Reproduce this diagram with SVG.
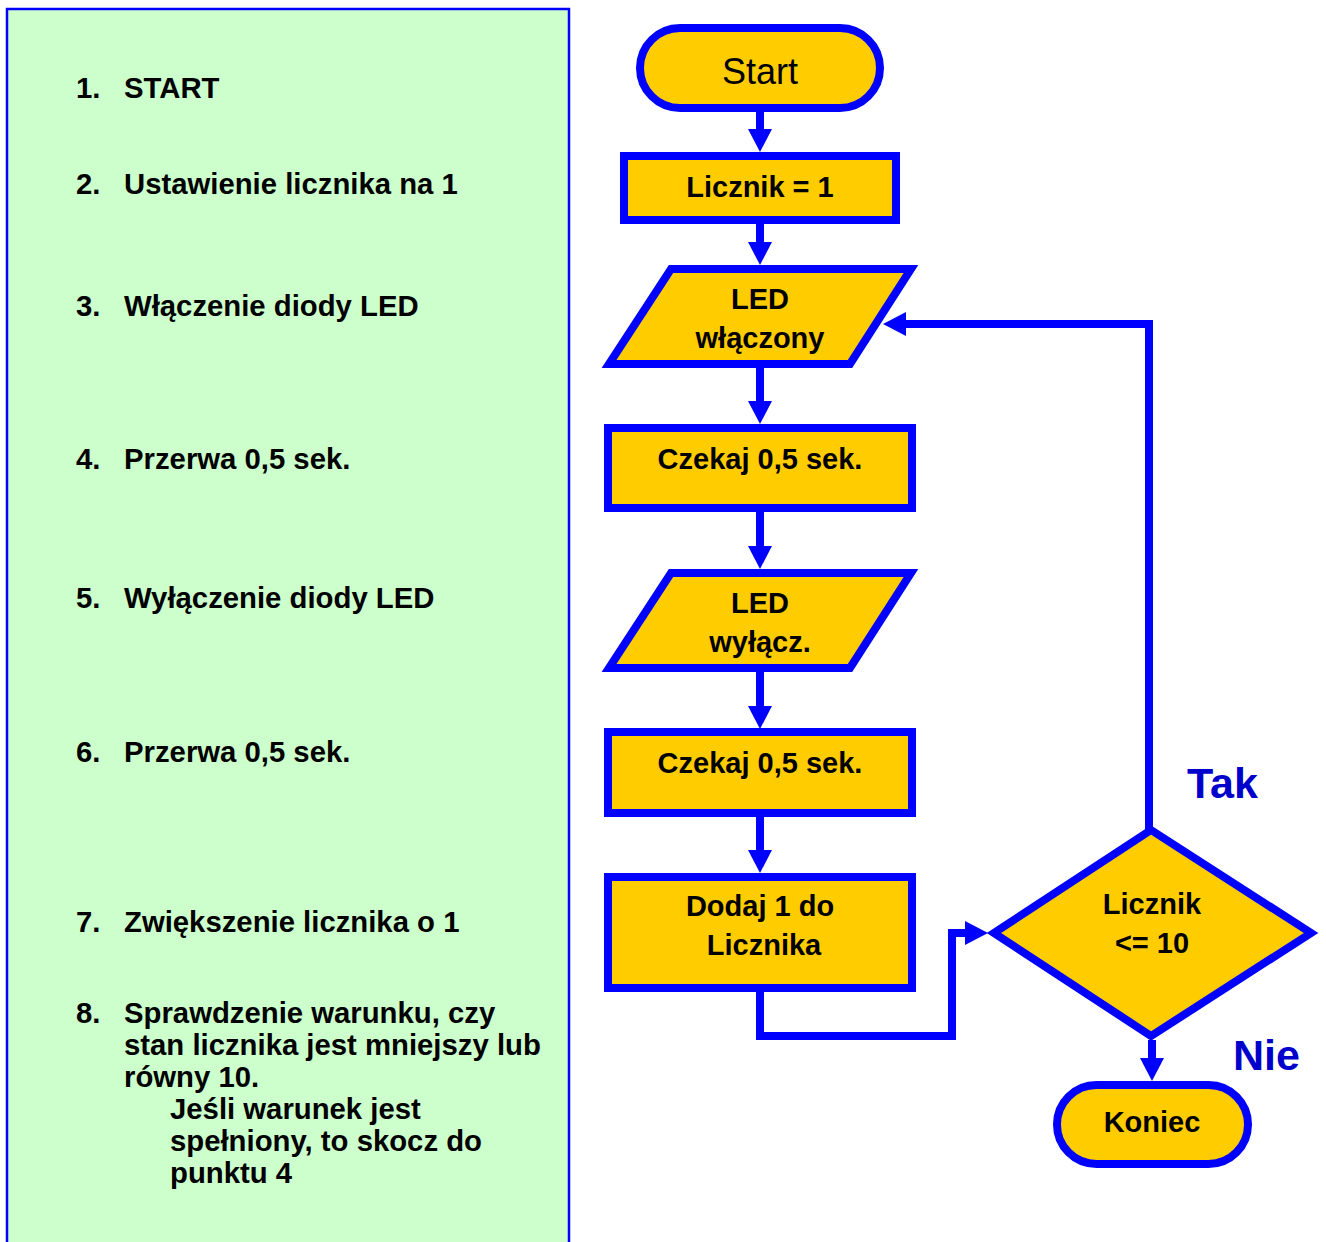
<svg xmlns="http://www.w3.org/2000/svg" width="1326" height="1242" viewBox="0 0 1326 1242">
<style>
  .panel { fill: #ccffcc; stroke: #0000ff; stroke-width: 2.5; }
  .step { font-family: "Liberation Sans", Arial, sans-serif; font-size: 29.3px; font-weight: bold; fill: #000; }
  .shape { fill: #ffcc00; stroke: #0000ff; stroke-width: 8; stroke-linejoin: miter; stroke-miterlimit: 10; }
  .lbl { font-family: "Liberation Sans", Arial, sans-serif; font-size: 29px; font-weight: bold; fill: #000; text-anchor: middle; }
  .term { font-family: "Liberation Sans", Arial, sans-serif; font-size: 36px; fill: #000; text-anchor: middle; }
  .conn { fill: none; stroke: #0000ff; stroke-width: 8; stroke-linejoin: miter; marker-end: url(#ah); }
  .branch { font-family: "Liberation Sans", Arial, sans-serif; font-size: 43px; font-weight: bold; fill: #0000cc; }
</style>
<defs>
  <marker id="ah" markerUnits="userSpaceOnUse" markerWidth="24" markerHeight="24" viewBox="0 -12 24 24" refX="0" refY="0" orient="auto">
    <path d="M0,-12 L23,0 L0,12 z" fill="#0000ff"/>
  </marker>
</defs>
<rect width="1326" height="1242" fill="#ffffff"/>

<g id="panel">
  <rect class="panel" x="7" y="9" width="562" height="1245"/>
  <text class="step" x="76" y="98">1.</text><text class="step" x="124" y="98">START</text>
  <text class="step" x="76" y="194">2.</text><text class="step" x="124" y="194">Ustawienie licznika na 1</text>
  <text class="step" x="76" y="316">3.</text><text class="step" x="124" y="316">Włączenie diody LED</text>
  <text class="step" x="76" y="469">4.</text><text class="step" x="124" y="469">Przerwa 0,5 sek.</text>
  <text class="step" x="76" y="608">5.</text><text class="step" x="124" y="608">Wyłączenie diody LED</text>
  <text class="step" x="76" y="762">6.</text><text class="step" x="124" y="762">Przerwa 0,5 sek.</text>
  <text class="step" x="76" y="932">7.</text><text class="step" x="124" y="932">Zwiększenie licznika o 1</text>
  <text class="step" x="76" y="1023">8.</text><text class="step" x="124" y="1023">Sprawdzenie warunku, czy</text>
  <text class="step" x="124" y="1055">stan licznika jest mniejszy lub</text>
  <text class="step" x="124" y="1087">równy 10.</text>
  <text class="step" x="170" y="1119">Jeśli warunek jest</text>
  <text class="step" x="170" y="1151">spełniony, to skocz do</text>
  <text class="step" x="170" y="1183">punktu 4</text>
</g>

<g id="connectors">
  <path class="conn" d="M760,112 V129"/>
  <path class="conn" d="M760,224 V242"/>
  <path class="conn" d="M760,368 V401"/>
  <path class="conn" d="M760,512 V546"/>
  <path class="conn" d="M760,672 V706"/>
  <path class="conn" d="M760,817 V850"/>
  <path class="conn" d="M760,992 V1036 H952 V933 H965"/>
  <path class="conn" d="M1149,832 V324 H906"/>
  <path class="conn" d="M1152,1040 V1058"/>
</g>

<g id="start">
  <rect class="shape" x="640" y="28" width="240" height="80" rx="40" ry="40"/>
  <text class="term" x="760" y="84">Start</text>
</g>
<g id="init">
  <rect class="shape" x="624" y="156" width="272" height="64"/>
  <text class="lbl" x="760" y="197">Licznik = 1</text>
</g>
<g id="led-on">
  <polygon class="shape" points="671,269 911,269 850,364 609,364"/>
  <text class="lbl" x="760" y="309">LED</text>
  <text class="lbl" x="760" y="348">włączony</text>
</g>
<g id="wait1">
  <rect class="shape" x="608" y="428" width="304" height="80"/>
  <text class="lbl" x="760" y="469">Czekaj 0,5 sek.</text>
</g>
<g id="led-off">
  <polygon class="shape" points="671,573 911,573 850,668 609,668"/>
  <text class="lbl" x="760" y="613">LED</text>
  <text class="lbl" x="760" y="652">wyłącz.</text>
</g>
<g id="wait2">
  <rect class="shape" x="608" y="732" width="304" height="81"/>
  <text class="lbl" x="760" y="773">Czekaj 0,5 sek.</text>
</g>
<g id="increment">
  <rect class="shape" x="608" y="877" width="304" height="111"/>
  <text class="lbl" x="760" y="916">Dodaj 1 do</text>
  <text class="lbl" x="764" y="955">Licznika</text>
</g>
<g id="decision">
  <polygon class="shape" points="1151,830 1311,933 1151,1036 994,933"/>
  <text class="lbl" x="1152" y="914">Licznik</text>
  <text class="lbl" x="1152" y="953">&lt;= 10</text>
</g>
<g id="end">
  <rect class="shape" x="1057" y="1085" width="191" height="79" rx="39.5" ry="39.5"/>
  <text class="lbl" x="1152" y="1132">Koniec</text>
</g>
<g id="labels">
  <text class="branch" x="1187" y="798">Tak</text>
  <text class="branch" x="1233" y="1070">Nie</text>
</g>
</svg>
